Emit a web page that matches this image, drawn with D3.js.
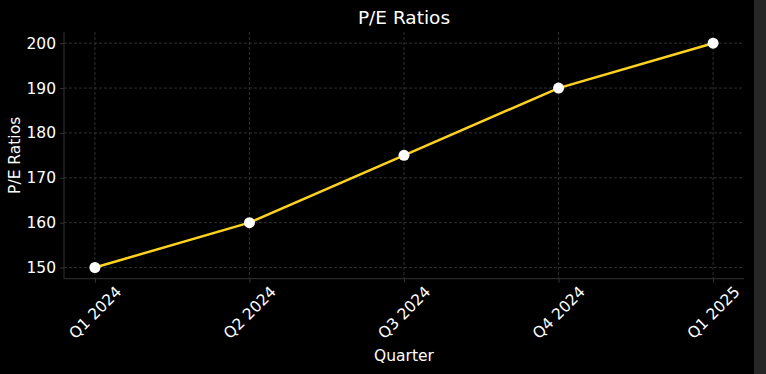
<!DOCTYPE html>
<html><head><meta charset="utf-8">
<script src="https://cdn.jsdelivr.net/npm/d3@7"></script>
<style>
html,body{margin:0;padding:0;background:#000;overflow:hidden;}
svg{display:block;font-family:"DejaVu Sans",sans-serif;}
</style></head>
<body><svg id="c" width="766" height="374"></svg>
<script>
const categories = ["Q1 2024","Q2 2024","Q3 2024","Q4 2024","Q1 2025"];
const peValues = [150,160,175,190,200];
const yTicks = [150,160,170,180,190,200];

const svg = d3.select("#c");
svg.append("rect").attr("width",766).attr("height",374).attr("fill","#000");
svg.append("rect").attr("x",754).attr("y",0).attr("width",12).attr("height",374).attr("fill","#262626");

const L=64, R=744, T=32, B=278.7;
const x = d3.scalePoint().domain(categories).range([L,R]).padding(0.2);
const y = d3.scaleLinear().domain([147.5,202.5]).range([B,T]);

// grid
const g = svg.append("g");
g.selectAll(".hg").data(yTicks).join("line")
  .attr("x1",L).attr("x2",R).attr("y1",d=>y(d)).attr("y2",d=>y(d))
  .attr("stroke","#3a3a3a").attr("stroke-width",0.8).attr("stroke-dasharray","3,2");
g.selectAll(".vg").data(categories).join("line")
  .attr("x1",d=>x(d)).attr("x2",d=>x(d)).attr("y1",T).attr("y2",B)
  .attr("stroke","#3a3a3a").attr("stroke-width",0.8).attr("stroke-dasharray","3,2");

// axes
const yAxis = svg.append("g").attr("transform",`translate(${L},0)`)
  .call(d3.axisLeft(y).tickValues(yTicks).tickSize(4).tickPadding(4));
const xAxis = svg.append("g").attr("transform",`translate(0,${B})`)
  .call(d3.axisBottom(x).tickSize(4).tickPadding(4));
[yAxis,xAxis].forEach(a=>{
  a.attr("font-size",null).attr("font-family",null);
  a.select(".domain").attr("stroke","#333").attr("stroke-width",1);
  a.selectAll(".tick line").attr("stroke","#333");
  a.selectAll("text").attr("fill","#fff").style("font-size","15.5px").style("font-family","DejaVu Sans");
});
xAxis.select(".domain").attr("d",`M${L},0H${R}`);
yAxis.select(".domain").attr("d",`M0,${B}V${T}`);
xAxis.selectAll(".tick text")
  .attr("y",0).attr("dy",null)
  .attr("text-anchor","middle")
  .attr("dominant-baseline","central")
  .attr("transform","translate(0,34) rotate(-45)");

// line
const pts = categories.map((c,i)=>({c,v:peValues[i]}));
svg.append("path").datum(pts)
  .attr("d",d3.line().x(d=>x(d.c)).y(d=>y(d.v)))
  .attr("fill","none").attr("stroke","#FFD21F").attr("stroke-width",2.5);
svg.selectAll(".pt").data(pts).join("circle")
  .attr("cx",d=>x(d.c)).attr("cy",d=>y(d.v)).attr("r",5.5).attr("fill","#fff");

// labels
svg.append("text").attr("x",(L+R)/2).attr("y",24).attr("text-anchor","middle")
  .attr("fill","#fff").style("font-size","18.5px").text("P/E Ratios");
svg.append("text").attr("x",(L+R)/2).attr("y",361).attr("text-anchor","middle")
  .attr("fill","#fff").style("font-size","15.5px").text("Quarter");
svg.append("text").attr("transform",`translate(20,${(T+B)/2}) rotate(-90)`).attr("text-anchor","middle")
  .attr("fill","#fff").style("font-size","15.5px").text("P/E Ratios");
</script></body></html>
